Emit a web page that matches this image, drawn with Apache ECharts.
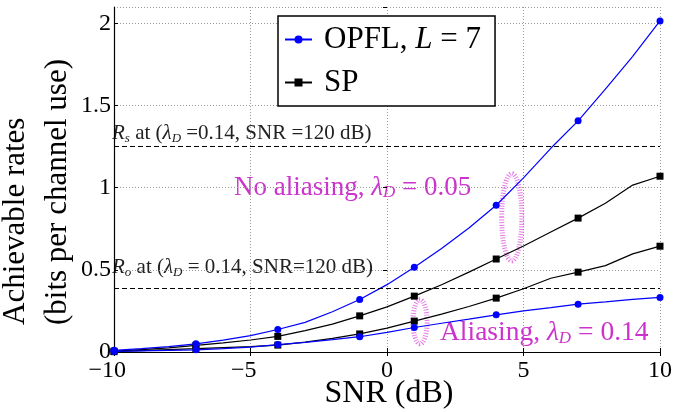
<!DOCTYPE html>
<html>
<head>
<meta charset="utf-8">
<script src="https://cdn.jsdelivr.net/npm/echarts@6/dist/echarts.min.js"></script>
<style>
html,body{margin:0;padding:0;background:#fff;}
#chart{width:688px;height:412px;}
</style>
</head>
<body>
<div id="chart"></div>
<script>
// ---- data ----
const snr = [-10,-9,-8,-7,-6,-5,-4,-3,-2,-1,0,1,2,3,4,5,6,7,8,9,10];
const markerSnr = [-10,-7,-4,-1,1,4,7,10];
const opflNoAlias = [0.01,0.02,0.033,0.05,0.072,0.10,0.137,0.18,0.245,0.32,0.41,0.516,0.63,0.755,0.893,1.06,1.24,1.407,1.60,1.80,2.015];
const spNoAlias   = [0.005,0.015,0.025,0.04,0.055,0.073,0.095,0.13,0.17,0.22,0.275,0.34,0.409,0.486,0.566,0.645,0.73,0.815,0.905,1.016,1.07];
const spAlias     = [0.002,0.008,0.014,0.02,0.027,0.033,0.042,0.06,0.083,0.11,0.145,0.188,0.231,0.277,0.328,0.385,0.449,0.486,0.526,0.597,0.644];
const opflAlias   = [0.003,0.007,0.01,0.013,0.02,0.03,0.045,0.058,0.075,0.093,0.12,0.149,0.175,0.20,0.226,0.25,0.27,0.291,0.305,0.32,0.332];
const rsLevel = 1.25;
const roLevel = 0.389;
const xTicks = [-10,-5,0,5,10];
const yTicks = [0,0.5,1,1.5,2];
const seriesNames = ['OPFL, L = 7','SP'];
// ellipse annotations: [centerSNR, centerRate, radiusSNR, radiusRate]
const ellipses = [[4.57,0.82,0.37,0.265],[1.21,0.184,0.26,0.134]];

const FONT = 'Liberation Serif';
const MAG = '#cc33cc';

function build(vals){
  return snr.map((x,i)=>{
    const item = {value:[x, vals[i]]};
    if (markerSnr.indexOf(x) < 0) item.symbolSize = 0;
    return item;
  });
}

const chart = echarts.init(document.getElementById('chart'), null, {renderer:'canvas'});

const lineBase = {type:'line', smooth:false, showSymbol:true, animation:false, z:3};

const option = {
  animation:false,
  backgroundColor:'#fff',
  grid:{left:114, right:28, top:7, bottom:60, containLabel:false, outerBoundsMode:'none'},
  legend:{
    data:seriesNames,
    orient:'vertical',
    left:278, top:16,
    padding:[8,14,8,6],
    itemGap:12,
    itemWidth:27, itemHeight:10,
    backgroundColor:'#fff',
    borderColor:'#000', borderWidth:1.5, borderRadius:0,
    selectedMode:false,
    formatter:function(name){
      if (name === seriesNames[0]) return '{n|OPFL, }{i|L}{n| = 7}';
      return '{n|SP}';
    },
    textStyle:{
      fontFamily:FONT, fontSize:31, color:'#000', padding:[0,0,0,7],
      rich:{
        n:{fontFamily:FONT, fontSize:31, color:'#000'},
        i:{fontFamily:FONT, fontSize:31, fontStyle:'italic', color:'#000'}
      }
    }
  },
  xAxis:[{
    type:'value', min:-10, max:10, interval:5,
    axisLine:{show:true, onZero:false, lineStyle:{color:'#000', width:1.2}},
    axisTick:{show:true, inside:true, length:4, lineStyle:{color:'#000'}},
    axisLabel:{
      fontFamily:FONT, fontSize:24, color:'#000', margin:7,
      formatter:function(v){
        if (xTicks.indexOf(v) < 0) return '';
        if (v < 0) return '{m|\u2212}' + Math.abs(v) + '{h|\u2212}';
        return String(v);
      },
      rich:{
        m:{fontFamily:FONT, fontSize:24, color:'#000'},
        h:{fontFamily:FONT, fontSize:24, color:'rgba(0,0,0,0)'}
      }
    },
    splitLine:{show:true, lineStyle:{type:[1,2], color:'#999', width:1}}
  },{
    type:'value', min:-10, max:10, interval:5, position:'top',
    axisLine:{show:false}, axisLabel:{show:false}, splitLine:{show:false},
    axisTick:{show:true, inside:true, length:4, lineStyle:{color:'#000'}}
  }],
  yAxis:[{
    type:'value', min:0, max:2.1, interval:0.5,
    axisLine:{show:true, onZero:false, lineStyle:{color:'#000', width:1.2}},
    axisTick:{show:true, inside:true, length:4, lineStyle:{color:'#000'}},
    axisLabel:{
      fontFamily:FONT, fontSize:24, color:'#000', margin:3, showMaxLabel:false,
      formatter:function(v){ return yTicks.indexOf(v) < 0 ? '' : String(v); }
    },
    splitLine:{show:true, lineStyle:{type:[1,2], color:'#999', width:1}}
  },{
    type:'value', min:0, max:2.1, interval:0.5, position:'right',
    axisLine:{show:false}, axisLabel:{show:false}, splitLine:{show:false},
    axisTick:{show:true, inside:true, length:4, lineStyle:{color:'#000'}}
  }],
  series:[
    Object.assign({}, lineBase, {
      name:seriesNames[1], data:build(spNoAlias),
      symbol:'rect', symbolSize:7,
      lineStyle:{color:'#000', width:1.2}, itemStyle:{color:'#000'},
      markLine:{
        silent:true, symbol:'none', animation:false,
        label:{show:false},
        lineStyle:{color:'#000', type:[5,3], width:1.2},
        data:[{yAxis:rsLevel},{yAxis:roLevel}]
      }
    }),
    Object.assign({}, lineBase, {
      name:seriesNames[1], data:build(spAlias),
      symbol:'rect', symbolSize:7,
      lineStyle:{color:'#000', width:1.2}, itemStyle:{color:'#000'}
    }),
    Object.assign({}, lineBase, {
      name:seriesNames[0], data:build(opflNoAlias),
      symbol:'circle', symbolSize:7,
      lineStyle:{color:'#0000ff', width:1.2}, itemStyle:{color:'#0000ff'}
    }),
    Object.assign({}, lineBase, {
      name:seriesNames[0], data:build(opflAlias),
      symbol:'circle', symbolSize:7,
      lineStyle:{color:'#0000ff', width:1.2}, itemStyle:{color:'#0000ff'}
    }),
    {
      type:'custom', name:'ellipses', data:ellipses, silent:true, z:2, clip:false,
      renderItem:function(params, api){
        const c = api.coord([api.value(0), api.value(1)]);
        const s = api.size([api.value(2), api.value(3)]);
        return {
          type:'ellipse',
          shape:{cx:c[0], cy:c[1], rx:s[0], ry:s[1]},
          style:{fill:null, stroke:'rgba(220,80,220,0.75)', lineWidth:5, lineDash:[1,1.6]}
        };
      }
    }
  ],
  graphic:[
    {
      type:'text', left:112, top:123, silent:true,
      style:{
        text:'{i|R}{s|s}{n| at (}{i|λ}{s|D}{n| =0.14, SNR =120 dB)}',
        rich:{
          n:{fontFamily:FONT, fontSize:21, fill:'#222'},
          i:{fontFamily:FONT, fontSize:21, fontStyle:'italic', fill:'#222'},
          s:{fontFamily:FONT, fontSize:13, fontStyle:'italic', fill:'#222', padding:[10,0,0,0]}
        }
      }
    },
    {
      type:'text', left:112, top:257, silent:true,
      style:{
        text:'{i|R}{s|o}{n| at (}{i|λ}{s|D}{n| = 0.14, SNR=120 dB)}',
        rich:{
          n:{fontFamily:FONT, fontSize:21, fill:'#222'},
          i:{fontFamily:FONT, fontSize:21, fontStyle:'italic', fill:'#222'},
          s:{fontFamily:FONT, fontSize:13, fontStyle:'italic', fill:'#222', padding:[10,0,0,0]}
        }
      }
    },
    {
      type:'text', left:234, top:174, silent:true,
      style:{
        text:'{n|No aliasing, }{i|λ}{s|D}{n| = 0.05}',
        rich:{
          n:{fontFamily:FONT, fontSize:27, fill:MAG},
          i:{fontFamily:FONT, fontSize:27, fontStyle:'italic', fill:MAG},
          s:{fontFamily:FONT, fontSize:17, fontStyle:'italic', fill:MAG, padding:[11,0,0,0]}
        }
      }
    },
    {
      type:'text', left:440, top:319, silent:true,
      style:{
        text:'{n|Aliasing, }{i|λ}{s|D}{n| = 0.14}',
        rich:{
          n:{fontFamily:FONT, fontSize:27.5, fill:MAG},
          i:{fontFamily:FONT, fontSize:27.5, fontStyle:'italic', fill:MAG},
          s:{fontFamily:FONT, fontSize:17, fontStyle:'italic', fill:MAG, padding:[11,0,0,0]}
        }
      }
    },
    {
      type:'text', x:16, y:325, rotation:Math.PI/2, silent:true,
      style:{text:'Achievable rates', fontFamily:FONT, fontSize:31, fill:'#000', align:'left', verticalAlign:'middle'}
    },
    {
      type:'text', x:58, y:325, rotation:Math.PI/2, silent:true,
      style:{text:'(bits per channel use)', fontFamily:FONT, fontSize:31, fill:'#000', align:'left', verticalAlign:'middle'}
    },
    {
      type:'text', x:389, y:394, silent:true,
      style:{text:'SNR (dB)', fontFamily:FONT, fontSize:32, fill:'#000', align:'center', verticalAlign:'middle'}
    }
  ]
};
chart.setOption(option);
</script>
</body>
</html>
